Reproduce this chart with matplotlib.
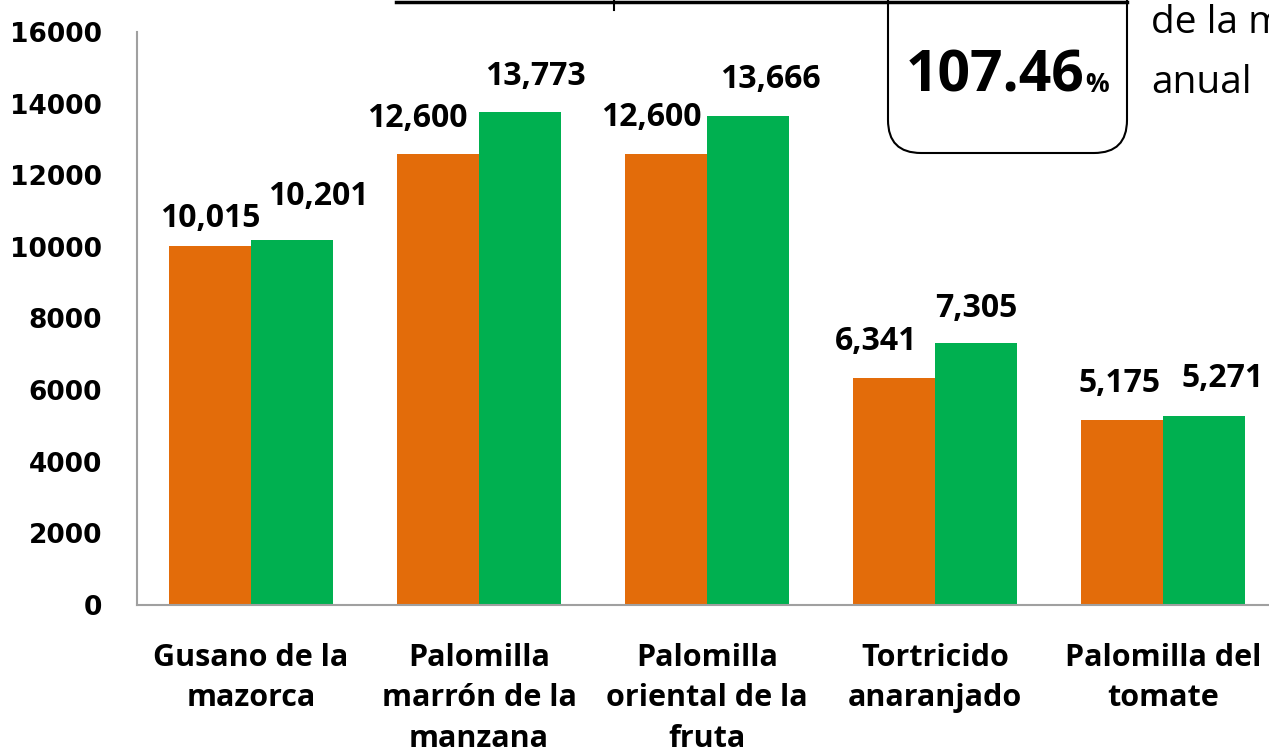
import numpy as np
import matplotlib
matplotlib.use("Agg")
import matplotlib.pyplot as plt
from matplotlib.patches import FancyBboxPatch
from matplotlib.lines import Line2D
from matplotlib.transforms import IdentityTransform

categories = [
    "Gusano de la\nmazorca",
    "Palomilla\nmarrón de la\nmanzana",
    "Palomilla\noriental de la\nfruta",
    "Tortricido\nanaranjado",
    "Palomilla del\ntomate",
]
meta = [10015, 12600, 12600, 6341, 5175]
logro = [10201, 13773, 13666, 7305, 5271]
meta_labels = ["10,015", "12,600", "12,600", "6,341", "5,175"]
logro_labels = ["10,201", "13,773", "13,666", "7,305", "5,271"]
porcentaje = "107.46"

orange = "#E36C0A"
green = "#00B050"
label_font = ["Open Sans", "DejaVu Sans"]

fig = plt.figure(figsize=(12.69, 7.56), dpi=100)
ax = fig.add_axes([137 / 1269, 1 - 605 / 756, 1140 / 1269, 573 / 756])

x = np.arange(len(categories))
w = 0.36
b1 = ax.bar(x - w / 2, meta, w, color=orange)
b2 = ax.bar(x + w / 2, logro, w, color=green)

# label offsets in pixels (dx, dy to baseline), as placed in the original
meta_off = [(0, 19), (-21, 27), (-15, 28), (-18, 28), (-2, 28)]
logro_off = [(26, 35), (15, 27), (22, 28), (0, 26), (19, 29)]
for bars, labels, offs in [(b1, meta_labels, meta_off), (b2, logro_labels, logro_off)]:
    for bar, lab, (dx, dy) in zip(bars, labels, offs):
        ax.annotate(lab, (bar.get_x() + bar.get_width() / 2, bar.get_height()),
                    xytext=(dx, dy), textcoords="offset pixels",
                    ha="center", va="baseline", fontsize=23, fontweight="bold",
                    family=label_font)

ax.set_xlim(-0.5, len(categories) - 0.5)
ax.set_ylim(0, 16000)
ax.set_yticks(np.arange(0, 16001, 2000))
ax.tick_params(axis="y", length=0, pad=25, labelsize=19)
for t in ax.get_yticklabels():
    t.set_fontweight("bold")
ax.set_xticks(x)
ax.set_xticklabels(categories, fontsize=22, fontweight="bold", family=label_font,
                   linespacing=1.47)
ax.tick_params(axis="x", length=0, pad=27)
for s in ["top", "right"]:
    ax.spines[s].set_visible(False)
for s in ["left", "bottom"]:
    ax.spines[s].set_color("#A0A0A0")
    ax.spines[s].set_linewidth(1.5)

# decoration cut off at the top of the slide
H = 756
px = IdentityTransform()
box = FancyBboxPatch((888, H - 153), 239, 260, boxstyle="round,pad=0,rounding_size=33",
                     fc="white", ec="black", lw=1.5, transform=px, clip_on=False)
fig.add_artist(box)
fig.add_artist(Line2D([396, 1127], [H - 2, H - 2], color="black", lw=2.5, transform=px))
fig.add_artist(Line2D([614, 614], [H, H - 10], color="black", lw=1.5, transform=px))
fig.text(1084 / 1269, 1 - 92 / H, porcentaje, ha="right", va="baseline", fontsize=41,
         fontweight="bold", family=label_font)
fig.text(1085 / 1269, 1 - 92 / H, "%", ha="left", va="baseline", fontsize=19,
         fontweight="bold", family=label_font)
fig.text(1151 / 1269, 1 - 33 / H, "de la meta", ha="left", va="baseline", fontsize=28,
         family=label_font)
fig.text(1151 / 1269, 1 - 93 / H, "anual", ha="left", va="baseline", fontsize=28,
         family=label_font)

fig.savefig("out.png", dpi=100)
